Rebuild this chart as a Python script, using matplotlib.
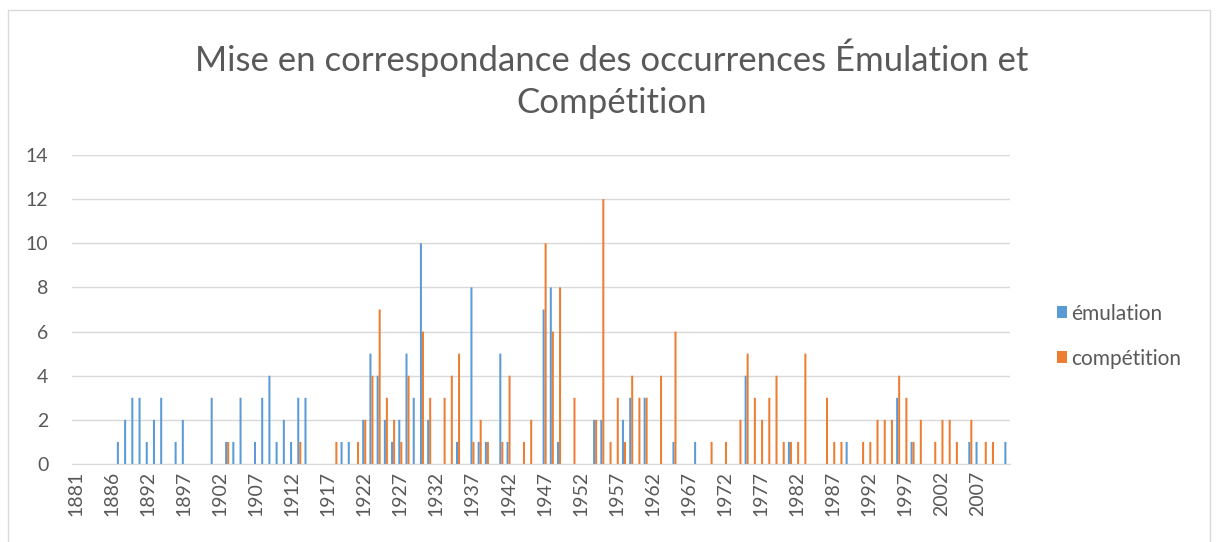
import matplotlib
matplotlib.use("Agg")
import matplotlib.pyplot as plt
from matplotlib.patches import Patch, Rectangle
import numpy as np

plt.rcParams['font.family'] = ['Lato', 'DejaVu Sans']

years = list(range(1881, 1891)) + list(range(1892, 2012))

emulation = [
    0, 0, 0, 0, 0, 0, 1, 2, 3, 3,      # 1881-1890
    1, 2, 3, 0, 1, 2, 0, 0, 0, 3,      # 1892-1901
    0, 1, 1, 3, 0, 1, 3, 4, 1, 2,      # 1902-1911
    1, 3, 3, 0, 0, 0, 0, 1, 1, 0,      # 1912-1921
    2, 5, 4, 2, 1, 2, 5, 3, 10, 2,     # 1922-1931
    0, 0, 0, 1, 0, 8, 1, 1, 0, 5,      # 1932-1941
    1, 0, 0, 0, 0, 7, 8, 1, 0, 0,      # 1942-1951
    0, 0, 2, 2, 0, 0, 2, 3, 0, 3,      # 1952-1961
    0, 0, 0, 1, 0, 0, 1, 0, 0, 0,      # 1962-1971
    0, 0, 0, 4, 0, 0, 0, 0, 0, 1,      # 1972-1981
    0, 0, 0, 0, 0, 0, 0, 1, 0, 0,      # 1982-1991
    0, 0, 0, 0, 3, 0, 1, 0, 0, 0,      # 1992-2001
    0, 0, 0, 0, 1, 1, 0, 0, 0, 1,      # 2002-2011
]

competition = [
    0, 0, 0, 0, 0, 0, 0, 0, 0, 0,      # 1881-1890
    0, 0, 0, 0, 0, 0, 0, 0, 0, 0,      # 1892-1901
    0, 1, 0, 0, 0, 0, 0, 0, 0, 0,      # 1902-1911
    0, 1, 0, 0, 0, 0, 1, 0, 0, 1,      # 1912-1921
    2, 4, 7, 3, 2, 1, 4, 0, 6, 3,      # 1922-1931
    0, 3, 4, 5, 0, 1, 2, 1, 0, 1,      # 1932-1941
    4, 0, 1, 2, 0, 10, 6, 8, 0, 3,     # 1942-1951
    0, 0, 2, 12, 1, 3, 1, 4, 3, 3,     # 1952-1961
    0, 4, 0, 6, 0, 0, 0, 0, 1, 0,      # 1962-1971
    1, 0, 2, 5, 3, 2, 3, 4, 1, 1,      # 1972-1981
    1, 5, 0, 0, 3, 1, 1, 0, 0, 1,      # 1982-1991
    1, 2, 2, 2, 4, 3, 1, 2, 0, 1,      # 1992-2001
    2, 2, 1, 0, 2, 0, 1, 1, 0, 0,      # 2002-2011
]

series_names = ["émulation", "compétition"]
colors = ["#5B9BD5", "#ED7D31"]
title = "Mise en correspondance des occurrences Émulation et\nCompétition"

W, H = 1220, 542
fig = plt.figure(figsize=(W / 100, H / 100), dpi=100)
fig.patches.append(Rectangle((8 / W, -0.05), (1210 - 8) / W, 1 - 10 / H + 0.05,
                             transform=fig.transFigure, fill=False,
                             edgecolor="#D9D9D9", linewidth=1))

ax = fig.add_axes([72 / W, 1 - 464 / H, (1010 - 72) / W, (464 - 155) / H])
x = np.arange(len(years))
bw = 0.28
ax.bar(x - bw / 2, emulation, width=bw, color=colors[0], label=series_names[0],
       linewidth=0, snap=False)
ax.bar(x + bw / 2, competition, width=bw, color=colors[1], label=series_names[1],
       linewidth=0, snap=False)

ax.set_xlim(-0.5, len(years) - 0.5)
ax.set_ylim(0, 14)
ax.set_yticks(range(0, 15, 2))
ax.set_xticks(x[::5])
ax.set_xticklabels([str(y) for y in years[::5]], rotation=90)
ax.tick_params(axis='both', length=0, labelsize=14, labelcolor="#595959")
ax.tick_params(axis='y', pad=17)
ax.tick_params(axis='x', pad=5)
ax.grid(axis='y', color="#D9D9D9", linewidth=1)
ax.set_axisbelow(True)
for s in ['top', 'right', 'left']:
    ax.spines[s].set_visible(False)
ax.spines['bottom'].set_color("#D9D9D9")

fig.text(612 / W, 1 - 79 / H, title, ha='center', va='center', fontsize=25,
         color="#595959", linespacing=1.4)

handles = [Patch(facecolor=c, edgecolor='none') for c in colors]
fig.legend(handles, series_names, loc='center left',
           bbox_to_anchor=(1038 / W, 1 - 336 / H), frameon=False,
           fontsize=15, labelcolor="#595959", handlelength=0.5,
           handleheight=0.5, handletextpad=0.2, labelspacing=1.2)

fig.savefig("out.png", dpi=100)
